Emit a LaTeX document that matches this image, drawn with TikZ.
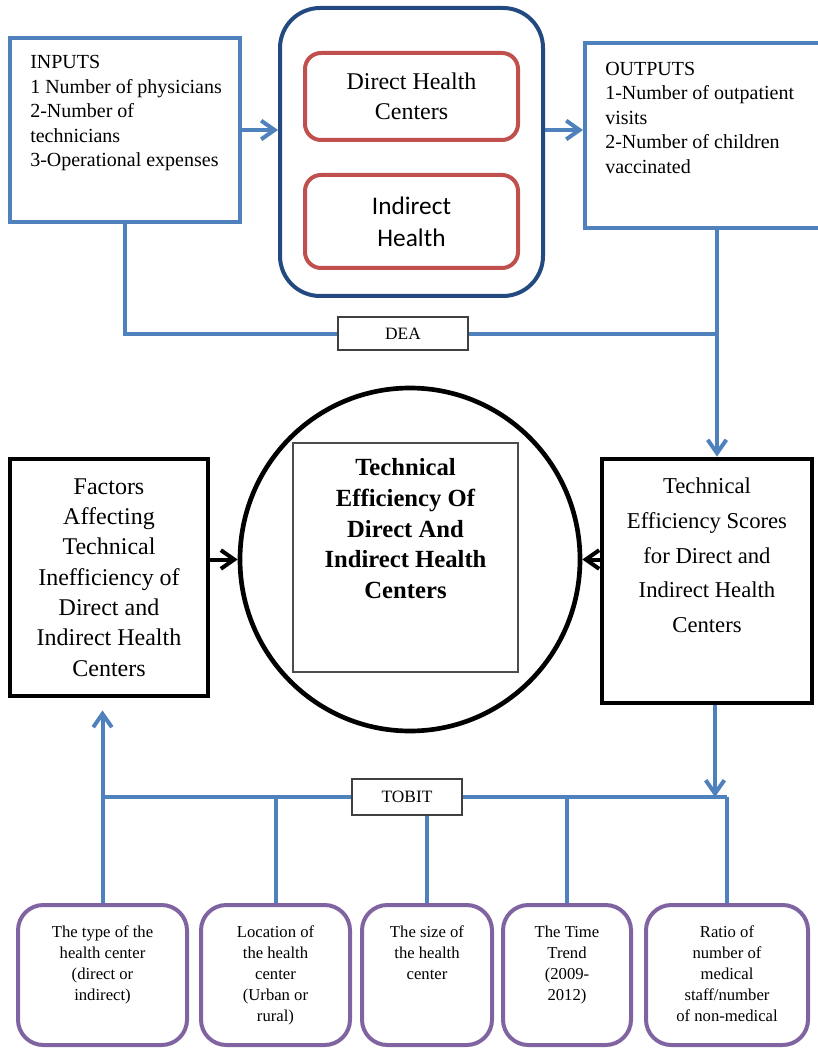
\documentclass[tikz,border=0pt]{standalone}
\usepackage{fontspec}
\setmainfont{Liberation Serif}
\newfontfamily\hcsans{Carlito}
\usetikzlibrary{arrows.meta, positioning, shapes.geometric}
\definecolor{dfblue}{HTML}{4F81BD}
\definecolor{dfnavy}{HTML}{234A80}
\definecolor{dfred}{HTML}{C0504D}
\definecolor{dfpurple}{HTML}{8064A2}

\begin{document}
\begin{tikzpicture}[x=0.75pt, y=-0.75pt,
    boxsize/.style 2 args={minimum width=#1*0.75pt, minimum height=#2*0.75pt},
    iobox/.style={rectangle, draw=dfblue, line width=3pt, inner sep=0pt},
    frame/.style={rectangle, rounded corners=30pt, draw=dfnavy, line width=3pt, inner sep=0pt},
    hcbox/.style={rectangle, rounded corners=12pt, draw=dfred, line width=3pt, align=center, inner sep=0pt},
    mainbox/.style={rectangle, draw=black, line width=3.6pt, align=center, inner sep=0pt,
                 font=\fontsize{18}{22.7}\selectfont},
    varbox/.style={rectangle, rounded corners=19pt, draw=dfpurple, line width=3pt, inner sep=0pt},
    vartext/.style={align=center, inner sep=0pt, font=\fontsize{12.5}{15.8}\selectfont},
    listtext/.style={align=left, inner sep=0pt, font=\fontsize{15}{18.4}\selectfont},
    tagbox/.style={rectangle, draw=black!75, line width=0.8pt, fill=white, inner sep=0pt,
                 font=\fontsize{13}{15}\selectfont},
    link/.style={draw=dfblue, line width=3pt},
    flow/.style={link, -{Straight Barb[length=10pt, width=14pt]}},
    bflow/.style={draw=black, line width=3pt, -{Straight Barb[length=10pt, width=14pt]}}
  ]
    \useasboundingbox (0,0) rectangle (817,1048);

    \node[iobox, boxsize={230}{184}] (inputs) at (125,130) {};
    \node[listtext, anchor=north west, below right=14.5pt and 16.5pt of inputs.north west]
      (inputstext) {INPUTS\\1 Number of physicians\\2-Number of\\technicians\\3-Operational expenses};
    \node[frame, boxsize={263}{288}] (centers) at (411.5,152) {};
    \node[hcbox, boxsize={213}{87}, font=\fontsize{18}{22.5}\selectfont] (direct) at (411.5,96.5)
      {Direct Health\\Centers};
    \node[hcbox, boxsize={213}{93}, font=\hcsans\fontsize{19}{24}\selectfont] (indirect) at (411.5,221.5)
      {Indirect\\Health};
    \node[iobox, boxsize={237}{185}] (outputs) at (703.5,135.5) {};
    \node[listtext, anchor=north west, below right=15.5pt and 16.5pt of outputs.north west]
      (outputstext) {OUTPUTS\\1-Number of outpatient\\visits\\2-Number of children\\vaccinated};

    \draw[flow] (inputs.east) -- (inputs.east -| centers.west);
    \draw[flow] (inputs.east -| centers.east) -- (inputs.east -| outputs.west);

    \node[tagbox, boxsize={130}{33}] (dea) at (403,333.5) {DEA};
    \coordinate (deajoin) at (717,333.5);
    \draw[link] (inputs.south) |- (dea.west);
    \draw[link] (dea.east) -- (deajoin);
    \draw[link] (outputs.south -| deajoin) -- (deajoin);

    \node[draw=black, line width=3.5pt, ellipse, boxsize={340}{343}, inner sep=0pt] (eff) at (410,559.5) {};
    \node[draw=black!70, line width=1pt, boxsize={225}{229}, inner sep=0pt] (effbox) at (405.5,557.5) {};
    \node[align=center, inner sep=0pt, font=\bfseries\fontsize{18.5}{23}\selectfont,
      below=12pt of effbox.north] (efftext)
      {Technical\\Efficiency Of\\Direct And\\Indirect Health\\Centers};

    \node[mainbox, boxsize={198}{237}] (factors) at (109,577.5)
      {Factors\\Affecting\\Technical\\Inefficiency of\\Direct and\\Indirect Health\\Centers};
    \node[mainbox, boxsize={210}{244}] (scores) at (707,581) {};
    \node[align=center, inner sep=0pt, font=\fontsize{17}{26}\selectfont,
      below=16pt of scores.north] (scorestext)
      {Technical\\Efficiency Scores\\for Direct and\\Indirect Health\\Centers};

    \draw[flow] (deajoin) -- (scores.north -| deajoin);
    \draw[bflow] (factors.east |- eff) -- (eff.west);
    \draw[bflow] (scores.west |- eff) -- (eff.east);

    \node[tagbox, boxsize={110}{36}] (tobit) at (407,797) {TOBIT};
    \node[varbox, boxsize={169}{140}] (v1) at (102.5,975) {};
    \node[varbox, boxsize={149}{140}] (v2) at (275.5,975) {};
    \node[varbox, boxsize={130}{140}] (v3) at (427,975) {};
    \node[varbox, boxsize={128}{140}] (v4) at (567,975) {};
    \node[varbox, boxsize={162}{140}] (v5) at (727,975) {};
    \node[vartext, below=17pt of v1.north] {The type of the\\health center\\(direct or\\indirect)};
    \node[vartext, below=17pt of v2.north] {Location of\\the health\\center\\(Urban or\\rural)};
    \node[vartext, below=17pt of v3.north] {The size of\\the health\\center};
    \node[vartext, below=17pt of v4.north] {The Time\\Trend\\(2009-\\2012)};
    \node[vartext, below=17pt of v5.north] {Ratio of\\number of\\medical\\staff/number\\of non-medical};

    \coordinate (scoredrop) at (715,797);
    \draw[flow] (scores.south -| scoredrop) -- (scoredrop);
    \draw[link] (v1.north |- tobit) -- (tobit.west);
    \draw[link] (tobit.east) -- (v5.north |- tobit);
    \draw[flow, shorten >=9pt] (v1.north) -- (factors.south -| v1.north);
    \draw[link] (v2.north) -- (v2.north |- tobit);
    \draw[link] (v3.north) -- (tobit.south -| v3.north);
    \draw[link] (v4.north) -- (v4.north |- tobit);
    \draw[link] (v5.north) -- (v5.north |- tobit);
  \end{tikzpicture}
\end{document}
